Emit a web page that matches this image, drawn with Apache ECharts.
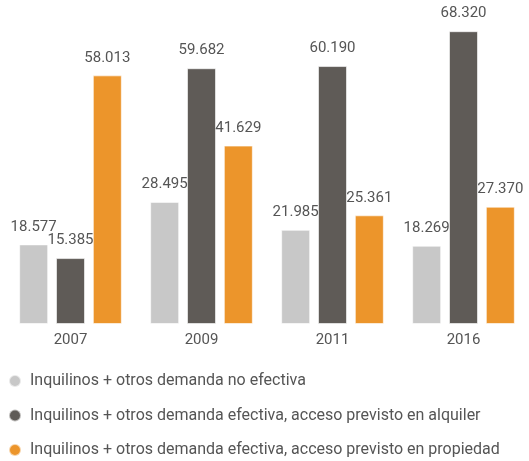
<!DOCTYPE html>
<html><head><meta charset="utf-8">
<script src="https://cdn.jsdelivr.net/npm/echarts@6/dist/echarts.min.js"></script>
<style>html,body{margin:0;padding:0;background:#fff}#c{width:529px;height:461px}</style>
</head><body><div id="c"></div>
<script>
const categories = ['2007', '2009', '2011', '2016'];
const seriesNames = [
  'Inquilinos + otros demanda no efectiva',
  'Inquilinos + otros demanda efectiva, acceso previsto en alquiler',
  'Inquilinos + otros demanda efectiva, acceso previsto en propiedad'
];
const noEfectiva = [18577, 28495, 21985, 18269];
const alquiler = [15385, 59682, 60190, 68320];
const propiedad = [58013, 41629, 25361, 27370];
const colors = ['#c8c8c8', '#5f5b57', '#ec952b'];

function fmt(v) {
  return String(v).replace(/\B(?=(\d{3})+(?!\d))/g, '.');
}
const chart = echarts.init(document.getElementById('c'));
const data = [noEfectiva, alquiler, propiedad];
chart.setOption({
  animation: false,
  textStyle: { fontFamily: 'Roboto' },
  grid: { left: 5, right: -2, top: 24, bottom: 137, containLabel: false },
  legend: {
    orient: 'vertical', left: 8, top: 372, padding: 0,
    itemGap: 16.5, itemWidth: 12, itemHeight: 12, icon: 'circle',
    textStyle: { fontFamily: 'Roboto', fontSize: 16, lineHeight: 18, color: '#555', padding: [0, 0, 0, 4] },
    data: seriesNames
  },
  xAxis: {
    type: 'category', data: categories,
    axisLine: { show: false }, axisTick: { show: false },
    axisLabel: { fontFamily: 'Roboto', fontSize: 15, color: '#555', margin: 9 }
  },
  yAxis: { type: 'value', min: 0, max: 70000, show: false, splitLine: { show: false } },
  series: seriesNames.map((n, i) => ({
    name: n, type: 'bar', data: data[i], barWidth: 29, barGap: '27%',
    itemStyle: { color: colors[i], borderColor: 'rgba(255,255,255,0.6)', borderWidth: 1 },
    label: {
      show: true, position: 'top', distance: 10,
      fontFamily: 'Roboto', fontSize: 15, color: '#555',
      formatter: p => fmt(p.value)
    }
  }))
});
</script></body></html>
